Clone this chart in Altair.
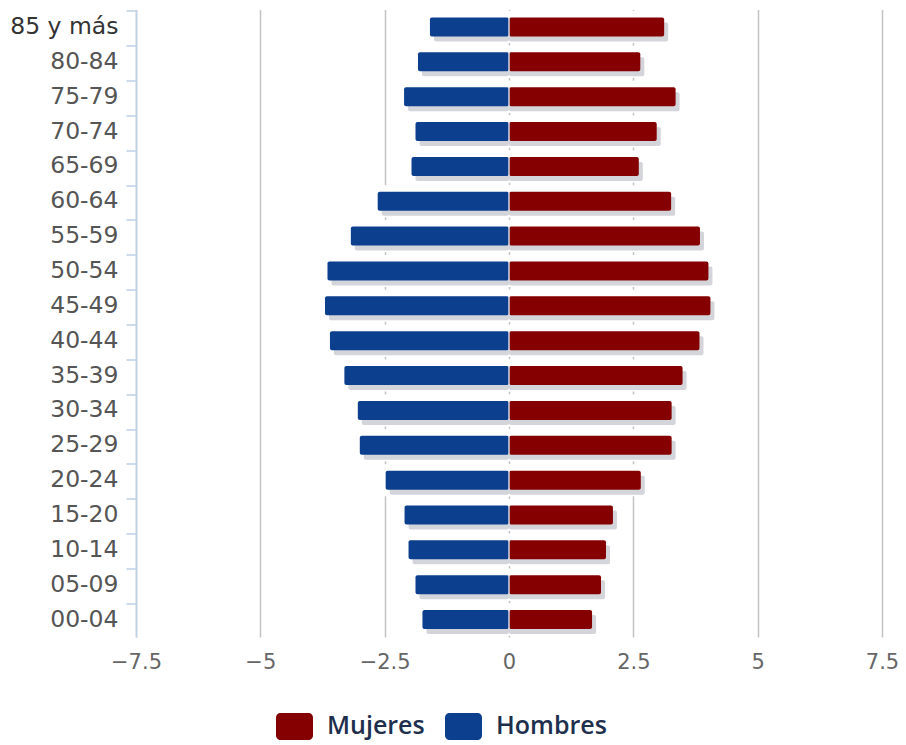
import altair as alt
import pandas as pd

grupos = ["85 y más", "80-84", "75-79", "70-74", "65-69", "60-64", "55-59",
          "50-54", "45-49", "40-44", "35-39", "30-34", "25-29", "20-24",
          "15-20", "10-14", "05-09", "00-04"]
hombres = [-1.59, -1.83, -2.11, -1.88, -1.96, -2.64, -3.18, -3.65, -3.70,
           -3.60, -3.31, -3.04, -3.00, -2.48, -2.10, -2.02, -1.88, -1.74]
mujeres = [3.12, 2.64, 3.35, 2.97, 2.61, 3.26, 3.84, 4.01, 4.05,
           3.83, 3.49, 3.27, 3.27, 2.65, 2.09, 1.95, 1.85, 1.67]
series = ["Mujeres", "Hombres"]
colores = ["#850000", "#0d3f8f"]
ticks_x = [-7.5, -5, -2.5, 0, 2.5, 5, 7.5]

rows = []
for g, h, m in zip(grupos, hombres, mujeres):
    rows.append({"grupo": g, "sexo": "Mujeres", "valor": m, "cero": 0})
    rows.append({"grupo": g, "sexo": "Hombres", "valor": h, "cero": 0})
df = pd.DataFrame(rows)
df_cero = pd.DataFrame({"grupo": grupos, "cero": [0] * len(grupos)})

x_enc = alt.X(
    "valor:Q",
    scale=alt.Scale(domain=[-7.5, 7.5], nice=False, zero=False),
    axis=alt.Axis(
        values=ticks_x, labelExpr="replace(toString(datum.value), '-', '\u2212')",
        title=None, grid=True, domain=False, labelFlush=False, labelOverlap=False,
        ticks=False, gridColor="#c4c4c4", gridWidth=1.5,
        labelFont="DejaVu Sans", labelFontSize=21, labelColor="#666666",
        labelPadding=14,
    ),
)
y_enc = alt.Y(
    "grupo:N", sort=grupos,
    axis=alt.Axis(
        title=None, domainColor="#bcd0e6", domainWidth=1.5, tickColor="#bcd0e6",
        tickSize=10, tickWidth=1.5, bandPosition=0, grid=False,
        labelFont="DejaVu Sans", labelFontSize=23.5,
        labelColor={"expr": "datum.value == '85 y más' ? '#333333' : '#555555'"},
        labelPadding=8,
    ),
)

base = alt.Chart(df).encode(x=x_enc, x2="cero:Q", y=y_enc)

halo = base.mark_bar(size=26, color="white", stroke="white", strokeWidth=6)
sombra = base.mark_bar(size=19, color="#a8acb6", opacity=0.5, xOffset=4, yOffset=5,
                       cornerRadius=2)
barras = base.mark_bar(size=19, cornerRadius=2).encode(
    color=alt.Color(
        "sexo:N",
        scale=alt.Scale(domain=series, range=colores),
        legend=alt.Legend(
            title=None, orient="none", direction="horizontal",
            legendX=140, legendY=698,
            symbolType="M-0.75,-0.73 H0.75 A0.25,0.25 0 0 1 1,-0.48 V0.48 A0.25,0.25 0 0 1 0.75,0.73 H-0.75 A0.25,0.25 0 0 1 -1,0.48 V-0.48 A0.25,0.25 0 0 1 -0.75,-0.73 Z",
            symbolSize=1369, symbolStrokeWidth=0, symbolOpacity=1,
            labelFont="Open Sans", labelFontSize=25, labelFontWeight=600,
            labelColor="#1e2f4d", labelOffset=14, columnPadding=20,
        ),
    )
)
separador = alt.Chart(df_cero).mark_tick(
    color="#e2e4ea", thickness=2, size=19, orient="vertical"
).encode(x="cero:Q", y=alt.Y("grupo:N", sort=grupos))

chart = alt.layer(halo, sombra, barras, separador).properties(
    width=746, height=627.5,
    padding={"left": 128, "top": 1.5, "right": 16, "bottom": 106},
    autosize=alt.AutoSizeParams(type="none"),
).configure_view(stroke=None)

chart.save("out.html", embed_options={"renderer": "svg", "actions": False})
